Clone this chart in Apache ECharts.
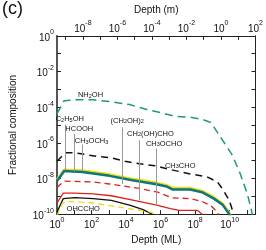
<!DOCTYPE html>
<html><head><meta charset="utf-8">
<script src="https://cdn.jsdelivr.net/npm/echarts@6/dist/echarts.min.js"></script>
<style>html,body{margin:0;padding:0;background:#fff}#c{width:266px;height:250px}</style>
</head><body><div id="c"></div>
<script>
// ---- data (depth in ML, fractional composition) ----
const nh2ohDepth = [1, 2.6, 11, 126, 1.4e3, 1.6e4, 1.26e5, 1.1e6, 6.8e6, 5.2e7, 2.5e8, 8.5e8, 2.8e9, 1.4e10, 4e10, 1.07e11, 1.95e11, 2.5e11];
const nh2ohFrac  = [4.4e-5, 2.3e-4, 2.6e-4, 2.6e-4, 2.0e-4, 1.4e-4, 7.9e-5, 4.9e-5, 3.1e-5, 2.75e-5, 2.1e-5, 1.35e-5, 2.3e-6, 2.1e-7, 2.0e-8, 1.35e-9, 1.26e-10, 4e-11];

const ch3choDepth = [1, 3, 11, 230, 1.1e3, 8.7e3, 6e4, 4.7e5, 2e6, 5.2e7, 4.7e8, 2e9, 4.1e9, 9.5e9, 1.74e10, 2.5e10];
const ch3choFrac  = [9.3e-8, 2.75e-7, 2.75e-7, 1.7e-7, 1.5e-7, 9.3e-8, 6.6e-8, 5.2e-8, 3.6e-8, 1.8e-8, 1.26e-8, 6.3e-9, 2.4e-9, 5.9e-10, 1e-10, 3.2e-11];

const bandDepth  = [1, 2.6, 30, 1.1e3, 2.3e4, 4.7e5, 2.3e6, 5.2e6, 5.2e7, 2.5e8, 1.23e9, 4.1e9, 9.5e9, 1.26e10];
const tealFrac   = [7.1e-9, 2.6e-8, 2.3e-8, 1.4e-8, 7.9e-9, 4.9e-9, 3.5e-9, 2.4e-9, 2.4e-9, 1.7e-9, 7.4e-10, 3.2e-10, 1e-10, 5e-11];
const yellowFrac = [8.5e-9, 3.1e-8, 2.8e-8, 1.7e-8, 9.5e-9, 5.9e-9, 4.2e-9, 2.9e-9, 2.9e-9, 2.0e-9, 8.9e-10, 3.8e-10, 1.2e-10, 6e-11];

const redDashDepth = [1, 2.6, 126, 1.1e3, 6e4, 6.8e5, 4.2e6, 5.2e7, 2.5e8, 8.5e8, 2e9, 2.5e9, 3.2e9];
const redDashFrac  = [3.1e-9, 7.1e-9, 6.3e-9, 4.9e-9, 2.75e-9, 1.7e-9, 8.3e-10, 7.4e-10, 5.2e-10, 2.9e-10, 1.26e-10, 1e-10, 5e-11];

const redDepth = [1, 2.3, 11, 126, 1.4e3, 2.9e4, 6e5, 3.7e6, 1.23e7, 1.4e8, 2.5e8, 3.2e8];
const redFrac  = [4.2e-10, 1.5e-9, 1.5e-9, 1.35e-9, 1.07e-9, 5.9e-10, 3.2e-10, 2e-10, 1.6e-10, 1.6e-10, 1e-10, 5e-11];

const blackDepth = [1, 2.3, 11, 126, 1.4e3, 1.6e4, 9.8e4, 3.2e5, 5e5];
const blackFrac  = [1.26e-10, 7.4e-10, 8.3e-10, 7.4e-10, 5.9e-10, 3.2e-10, 1.8e-10, 1e-10, 5e-11];

const yelDashDepth = [1, 2.1, 6.2, 126, 1.4e3, 1.6e4, 1.8e5, 6e5, 1e6];
const yelDashFrac  = [8e-11, 4.2e-10, 5.2e-10, 4.2e-10, 2.9e-10, 2e-10, 1.4e-10, 1e-10, 5e-11];

// tick values
const mlTicks  = [1, 1e1, 1e2, 1e3, 1e4, 1e5, 1e6, 1e7, 1e8, 1e9, 1e10, 1e11];
const mlLabels = [1, 1e2, 1e4, 1e6, 1e8, 1e10];
const mTicks   = [1e-9, 1e-8, 1e-7, 1e-6, 1e-5, 1e-4, 1e-3, 1e-2, 1e-1, 1, 10, 100];
const mLabels  = [1e-8, 1e-6, 1e-4, 1e-2, 1, 100];
const fTicks   = [1e-10, 1e-9, 1e-8, 1e-7, 1e-6, 1e-5, 1e-4, 1e-3, 1e-2, 1e-1, 1];
const fLabels  = [1e-10, 1e-8, 1e-6, 1e-4, 1e-2, 1];

// annotations (label centre in data coordinates)
const speciesNames = ['NH2OH', 'C2H5OH', 'HCOOH', 'CH3OCH3', '(CH2OH)2', 'CH2(OH)CHO', 'CH3OCHO', 'CH3CHO', 'OHCCHO'];
const speciesDepth = [87, 5.5, 19.5, 100, 1.17e4, 2.6e5, 1.6e6, 1.38e7, 33];
const speciesFrac  = [4.7e-4, 2.1e-5, 5.9e-6, 1.26e-6, 1.7e-5, 3.2e-6, 8.9e-7, 5.2e-8, 2.0e-10];

const pointerDepth  = [2.95, 10, 29.5, 6e3, 6e4, 6e5];
const pointerTop    = [1.07e-5, 3.2e-6, 7.9e-7, 7.4e-6, 1.4e-6, 4.9e-7];
const pointerBottom = [2.9e-8, 2.6e-8, 2.6e-8, 4.9e-9, 5.9e-10, 3.2e-10];

// ---- chart ----
const F = 'Liberation Sans, Arial, Helvetica, sans-serif';
const pairs = (d, f) => d.map((v, i) => [v, f[i]]);
function powLabel(v) {
  const e = Math.round(Math.log10(v));
  return '{b|10}{s|' + (e < 0 ? '-' + (-e) : e) + '}';
}
const richPow = {
  b: {fontSize: 10, fontFamily: F, color: '#111', verticalAlign: 'bottom', padding: [4, 0, 0, 0]},
  s: {fontSize: 7, fontFamily: F, color: '#111', verticalAlign: 'top'}
};
const axisCommon = (ticks, pos) => ({
  axisLine: {show: true, lineStyle: {color: pos === 'left' ? '#555' : '#222', width: pos === 'left' ? 2 : 1}},
  axisTick: {show: true, inside: true, length: 4, customValues: ticks, lineStyle: {color: '#222', width: 1}},
  splitLine: {show: false},
  minorTick: {show: false}
});

const chart = echarts.init(document.getElementById('c'), null, {renderer: 'canvas'});
const sub = name => name.replace(/(\d)/g, '{s|$1}').replace(/([^}|{]+)(?=\{|$)/g, '{n|$1}');
const richName = {
  n: {fontSize: 7.5, fontFamily: F, fill: '#111', verticalAlign: 'top', lineHeight: 8},
  s: {fontSize: 5.5, fontFamily: F, fill: '#111', verticalAlign: 'bottom', lineHeight: 6, padding: [4, 0, 0, 0]}
};

const option = {
  animation: false,
  backgroundColor: '#fff',
  grid: {left: 40, top: 27, right: 7, bottom: 28, containLabel: false},
  xAxis: [
    Object.assign({
      type: 'log', position: 'bottom', min: 1, max: Math.pow(10, 11.5),
      name: 'Depth (ML)', nameLocation: 'middle', nameGap: 20,
      nameTextStyle: {fontSize: 10, fontFamily: F, color: '#111'},
      axisLabel: {customValues: mlLabels, formatter: powLabel, rich: richPow, margin: 2}
    }, axisCommon(mlTicks, 'bottom')),
    Object.assign({
      type: 'log', position: 'top', min: Math.pow(10, -9.5), max: 100,
      name: 'Depth (m)', nameLocation: 'middle', nameGap: 19,
      nameTextStyle: {fontSize: 10, fontFamily: F, color: '#111'},
      axisLabel: {customValues: mLabels, formatter: powLabel, rich: richPow, margin: 2}
    }, axisCommon(mTicks, 'top'))
  ],
  yAxis: [
    Object.assign({
      type: 'log', position: 'left', min: 1e-10, max: 1,
      name: 'Fractional composition', nameLocation: 'middle', nameGap: 39,
      nameTextStyle: {fontSize: 10, fontFamily: F, color: '#111'},
      axisLabel: {customValues: fLabels, formatter: powLabel, rich: richPow, margin: 3}
    }, axisCommon(fTicks, 'left')),
    Object.assign({
      type: 'log', position: 'right', min: 1e-10, max: 1,
      axisLabel: {show: false}
    }, axisCommon(fTicks, 'right'))
  ],
  series: [
    {type: 'line', name: 'pointers', data: [], symbol: 'none', z: 1, silent: true,
     markLine: {symbol: 'none', silent: true, animation: false, label: {show: false},
       lineStyle: {color: '#999', width: 1, type: 'solid'},
       data: pointerDepth.map((d, i) => [{coord: [d, pointerTop[i]]}, {coord: [d, pointerBottom[i]]}])}
    },
    {type: 'line', name: 'NH2OH', data: pairs(nh2ohDepth, nh2ohFrac), symbol: 'none', z: 3,
     lineStyle: {color: '#1f9b72', width: 1.5, type: [8, 5]}},
    {type: 'line', name: 'CH3CHO', data: pairs(ch3choDepth, ch3choFrac), symbol: 'none', z: 3,
     lineStyle: {color: '#111', width: 1.5, type: [7, 5]}},
    {type: 'line', name: 'yellow', data: pairs(bandDepth, yellowFrac), symbol: 'none', z: 3,
     lineStyle: {color: '#f0dc10', width: 2.5}},
    {type: 'line', name: 'teal', data: pairs(bandDepth, tealFrac), symbol: 'none', z: 4,
     lineStyle: {color: '#0a787c', width: 2.5}},
    {type: 'line', name: 'redDash', data: pairs(redDashDepth, redDashFrac), symbol: 'none', z: 3,
     lineStyle: {color: '#e0201a', width: 1.3, type: [6, 4]}},
    {type: 'line', name: 'red', data: pairs(redDepth, redFrac), symbol: 'none', z: 3,
     lineStyle: {color: '#e0201a', width: 1.3}},
    {type: 'line', name: 'black', data: pairs(blackDepth, blackFrac), symbol: 'none', z: 3,
     lineStyle: {color: '#111', width: 1.3}},
    {type: 'line', name: 'yelDash', data: pairs(yelDashDepth, yelDashFrac), symbol: 'none', z: 3,
     lineStyle: {color: '#f0dc10', width: 1.3, type: [6, 4]}}
  ]
};
chart.setOption(option);

// species labels placed through the chart's own axes
const labelGraphics = speciesNames.map((n, i) => {
  const p = chart.convertToPixel({xAxisIndex: 0, yAxisIndex: 0}, [speciesDepth[i], speciesFrac[i]]);
  return {type: 'text', x: p[0], y: p[1], z: 10, silent: true,
    style: {text: sub(n), rich: richName, align: 'center', verticalAlign: 'middle', fill: '#111', fontFamily: F}};
});
labelGraphics.push({type: 'text', left: 2, top: 0, style: {text: '(c)', fontSize: 18, fontFamily: F, fill: '#111'}});
chart.setOption({graphic: labelGraphics});
</script></body></html>
